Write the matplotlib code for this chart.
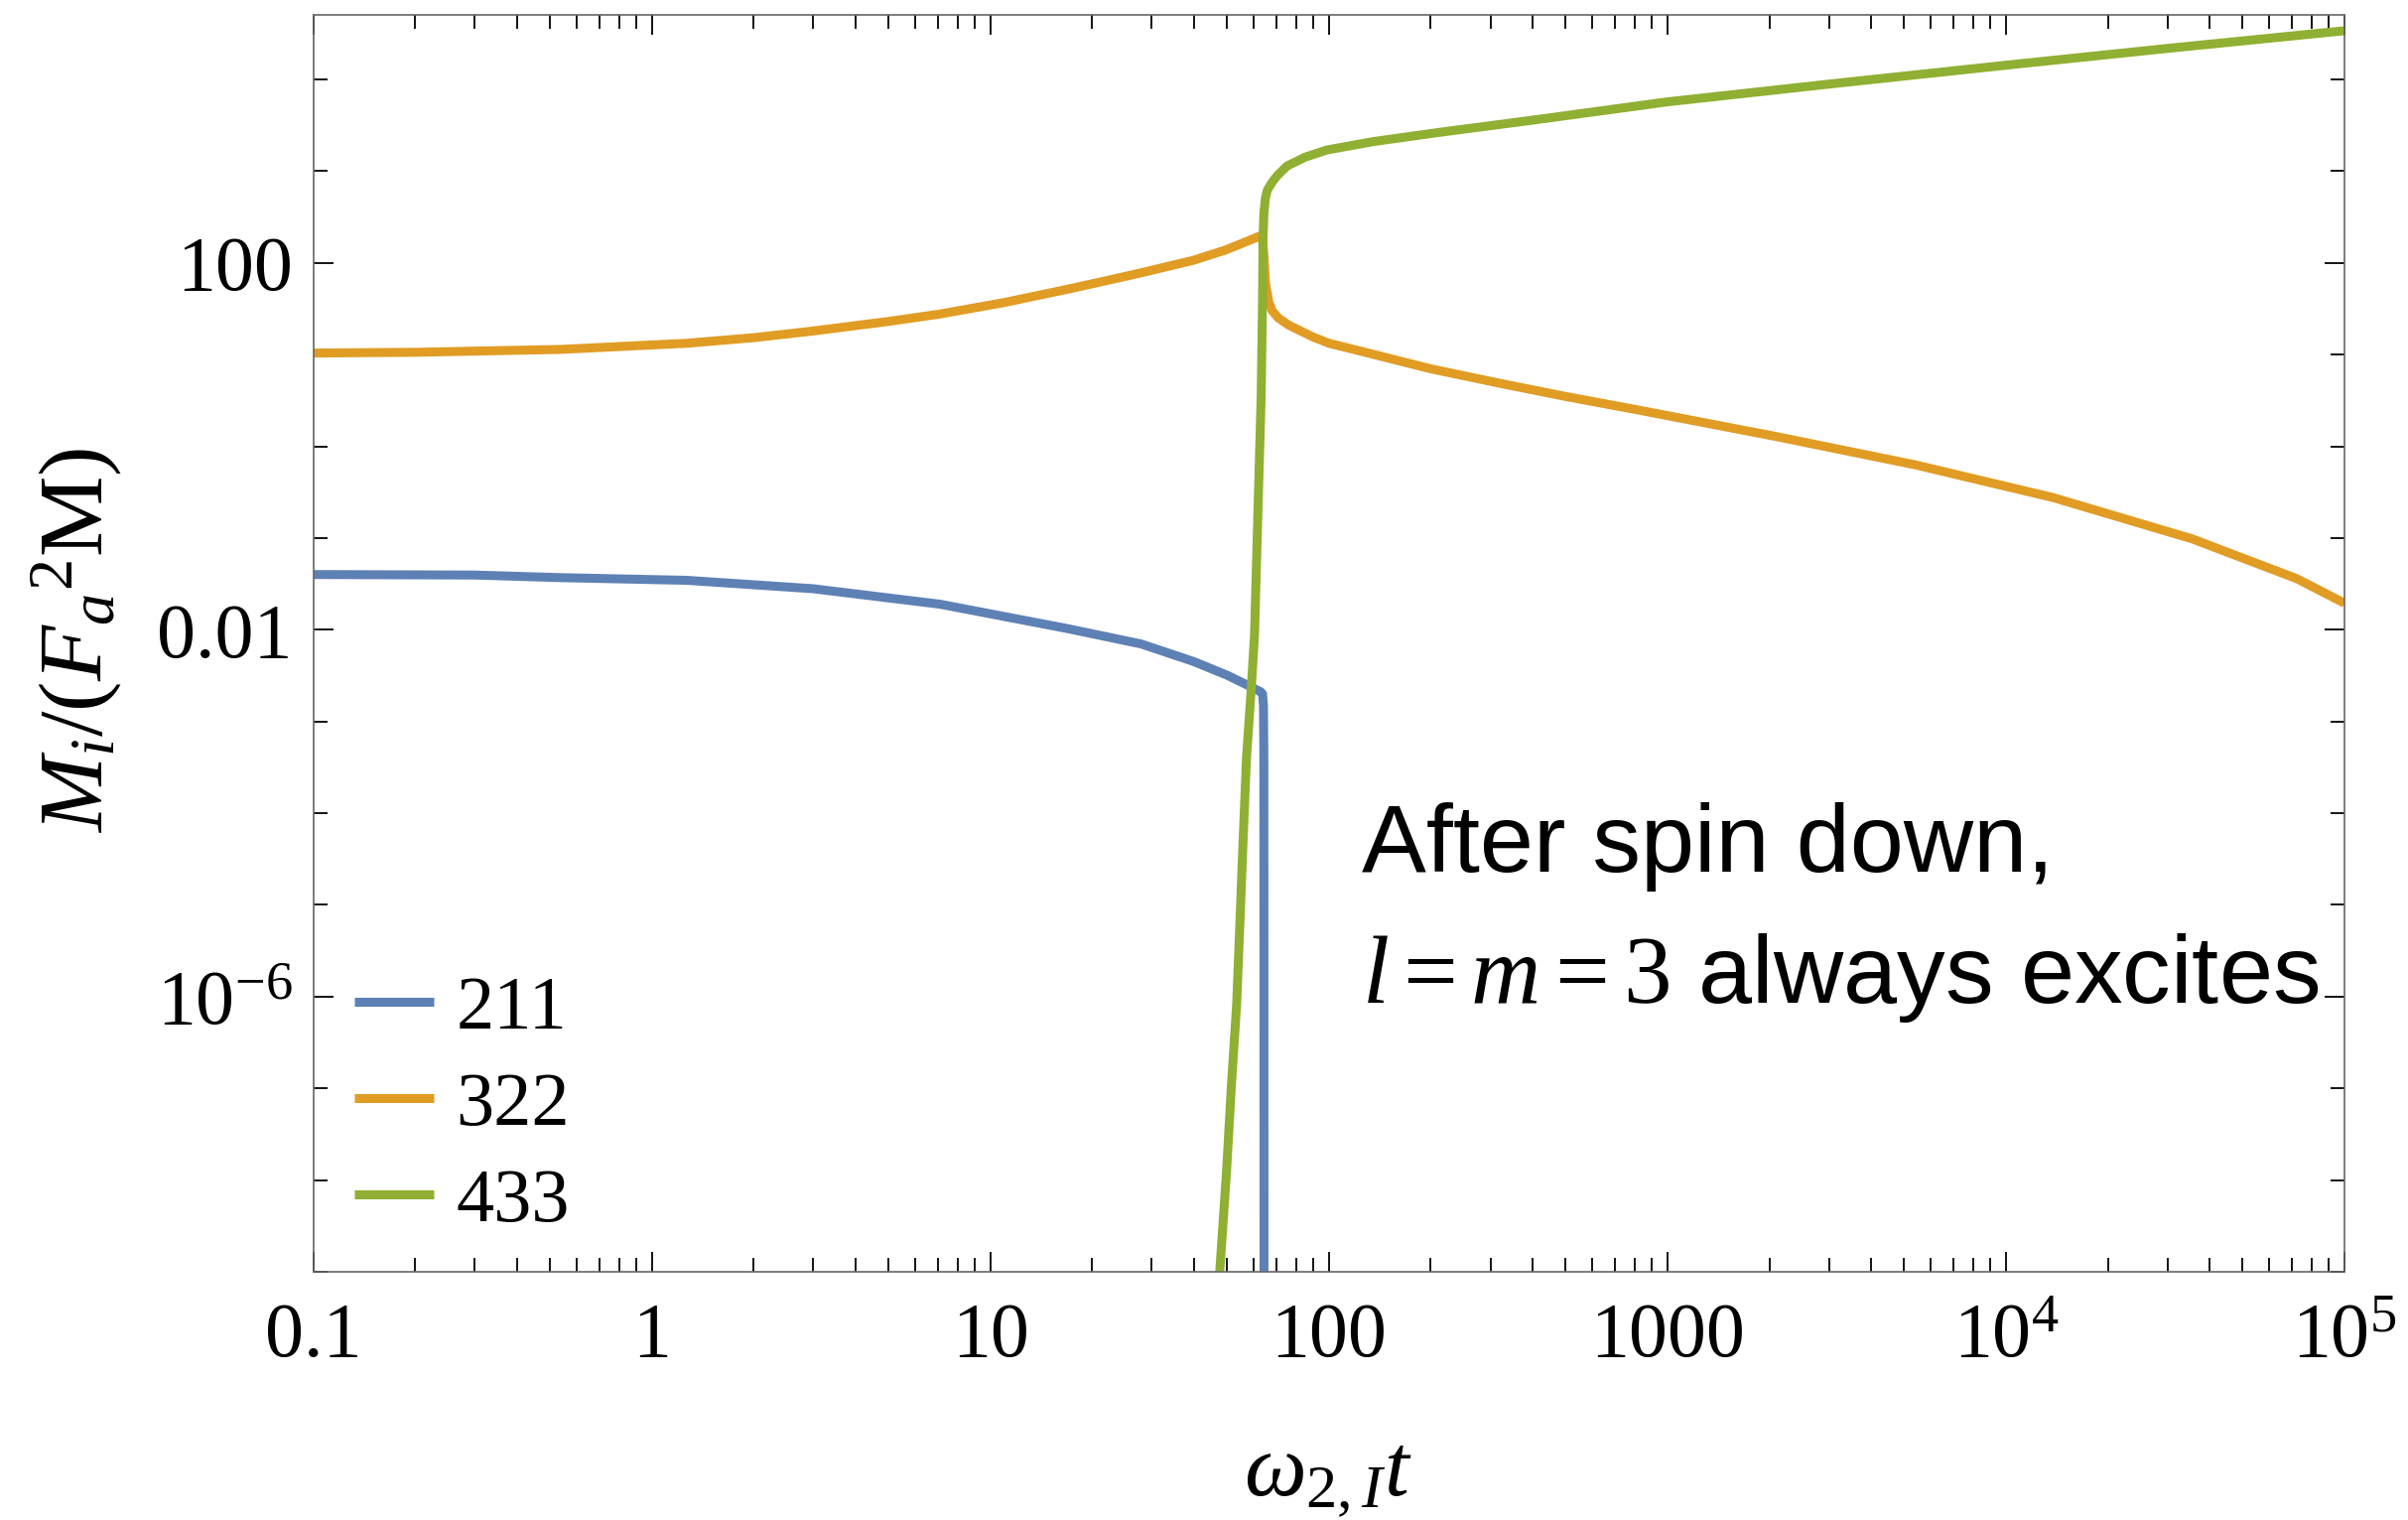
import matplotlib
matplotlib.use("Agg")
import matplotlib.pyplot as plt
from matplotlib.ticker import FixedLocator, FixedFormatter, NullFormatter

# ---------------- data ----------------
t_211 = [0.1, 0.3, 0.54, 1.27, 3.0, 7.1, 16.9, 27.9, 39.9, 50.0, 58.7,
         61.4, 62.8, 63.7, 64.1, 64.25, 64.3, 64.35]
m_211 = [0.040, 0.0395, 0.037, 0.0346, 0.028, 0.019, 0.0103, 0.0070, 0.0045,
         0.0032, 0.0024, 0.0022, 0.00212, 0.0020, 0.0015, 5e-4, 1e-5, 1e-11]

t_322 = [0.1, 0.2, 0.54, 1.27, 2.0, 3.0, 5.0, 7.1, 11.0, 16.9, 22.0, 27.9, 39.9, 50.0, 58.0,
         62.7, 63.6, 64.3, 65.0, 66.4, 68.0, 71.0, 76.0, 90.0, 100.0, 123.0, 200.0, 317.0,
         500.0, 815.0, 2094.0, 5380.0, 13800.0, 35500.0, 72400.0, 1e5]
m_322 = [10.4, 10.6, 11.4, 13.3, 15.3, 18.1, 23.0, 27.7, 37.0, 51.6, 64.0, 78.0, 107.0, 140.0, 175.0,
         197.0, 190.0, 120.0, 60.0, 38.0, 30.0, 25.0, 21.0, 15.5, 13.3, 11.0, 7.0, 4.9,
         3.5, 2.5, 1.28, 0.63, 0.276, 0.098, 0.036, 0.0195]

t_433 = [47.6, 49.9, 51.5, 53.4, 54.6, 55.8, 57.1, 59.0, 60.3, 61.9, 63.1, 63.7,
         63.9, 64.3, 64.9, 65.8, 67.9, 70.5, 75.2, 85.0, 98.5, 135.0, 212.0, 400.0,
         1000.0, 3000.0, 1e4, 3e4, 1e5]
m_433 = [1e-9, 1.3e-8, 1.03e-7, 8.1e-7, 6.3e-6, 5e-5, 4e-4, 2.3e-3, 8.7e-3, 0.28, 3.5, 41.5,
         184.0, 350.0, 500.0, 620.0, 754.0, 900.0, 1137.0, 1420.0, 1700.0, 2100.0, 2650.0, 3600.0,
         5700.0, 8900.0, 14300.0, 21800.0, 34000.0]

series_names = ["211", "322", "433"]
colors = ["#5E81B5", "#E19C24", "#8FB032"]

x_ticks = [0.1, 1, 10, 100, 1000, 1e4, 1e5]
x_labels = ["0.1", "1", "10", "100", "1000", r"$10^4$", r"$10^5$"]
y_ticks = [1e-6, 1e-2, 1e2]
y_labels = [r"$10^{-6}$", "0.01", "100"]

# ---------------- style ----------------
plt.rcParams["mathtext.fontset"] = "custom"
plt.rcParams["mathtext.rm"] = "Liberation Serif"
plt.rcParams["mathtext.it"] = "Liberation Serif:italic"
plt.rcParams["mathtext.bf"] = "Liberation Serif:bold"
plt.rcParams["mathtext.sf"] = "Liberation Sans"
plt.rcParams["font.family"] = ["Liberation Serif", "DejaVu Serif"]

fig = plt.figure(figsize=(24.26, 15.31), dpi=100)
ax = fig.add_axes([0.1301, 0.1633, 0.8435, 0.8266])

lw = 6.5
for t, m, lab, c in zip([t_211, t_322, t_433], [m_211, m_322, m_433], series_names, colors):
    ax.plot(t, m, color=c, lw=lw, label=lab, solid_capstyle="butt", solid_joinstyle="round")

ax.set_xscale("log")
ax.set_yscale("log")
ax.set_xlim(0.1, 1e5)
ax.set_ylim(1e-9, 5e4)

ax.xaxis.set_major_locator(FixedLocator(x_ticks))
ax.xaxis.set_major_formatter(FixedFormatter(x_labels))
ax.xaxis.set_minor_locator(FixedLocator([k * 10.0 ** e for e in range(-1, 5) for k in range(2, 10)]))
ax.xaxis.set_minor_formatter(NullFormatter())

ax.yaxis.set_major_locator(FixedLocator(y_ticks))
ax.yaxis.set_major_formatter(FixedFormatter(y_labels))
ax.yaxis.set_minor_locator(FixedLocator([10.0 ** e for e in range(-9, 5) if e not in (-6, -2, 2)]))
ax.yaxis.set_minor_formatter(NullFormatter())

ax.tick_params(which="both", direction="in", top=True, right=True, width=1.3,
               color="black", labelsize=56)
ax.tick_params(which="major", length=14.4)
ax.tick_params(which="minor", length=10)
ax.tick_params(axis="x", which="major", pad=22)
ax.tick_params(axis="y", which="major", pad=15)

for sp in ax.spines.values():
    sp.set_color("#666666")
    sp.set_linewidth(1.2)

# axis labels
fig.text(0.0317, 0.5787, r"$M_i/(F_a{}^2\mathrm{M})$", rotation=90,
         ha="center", va="center", fontsize=66)
fig.text(0.5515, 0.0157, r"$\omega_{2,I}t$", ha="center", va="baseline", fontsize=64)

# legend
leg = ax.legend(loc="lower left", bbox_to_anchor=(0.020, 0.028), frameon=False,
                fontsize=55, handlelength=1.05, handletextpad=0.3,
                labelspacing=0.36, borderpad=0, borderaxespad=0)

# annotation
ax.text(0.516, 0.3184, "After spin down,", transform=ax.transAxes,
        ha="left", va="baseline", fontsize=70, family=["Liberation Sans", "DejaVu Sans"])
ax.text(0.516, 0.2141, r"$l = m = 3$ always excites", transform=ax.transAxes,
        ha="left", va="baseline", fontsize=70, family=["Liberation Sans", "DejaVu Sans"])

fig.savefig("out.png", dpi=100)
